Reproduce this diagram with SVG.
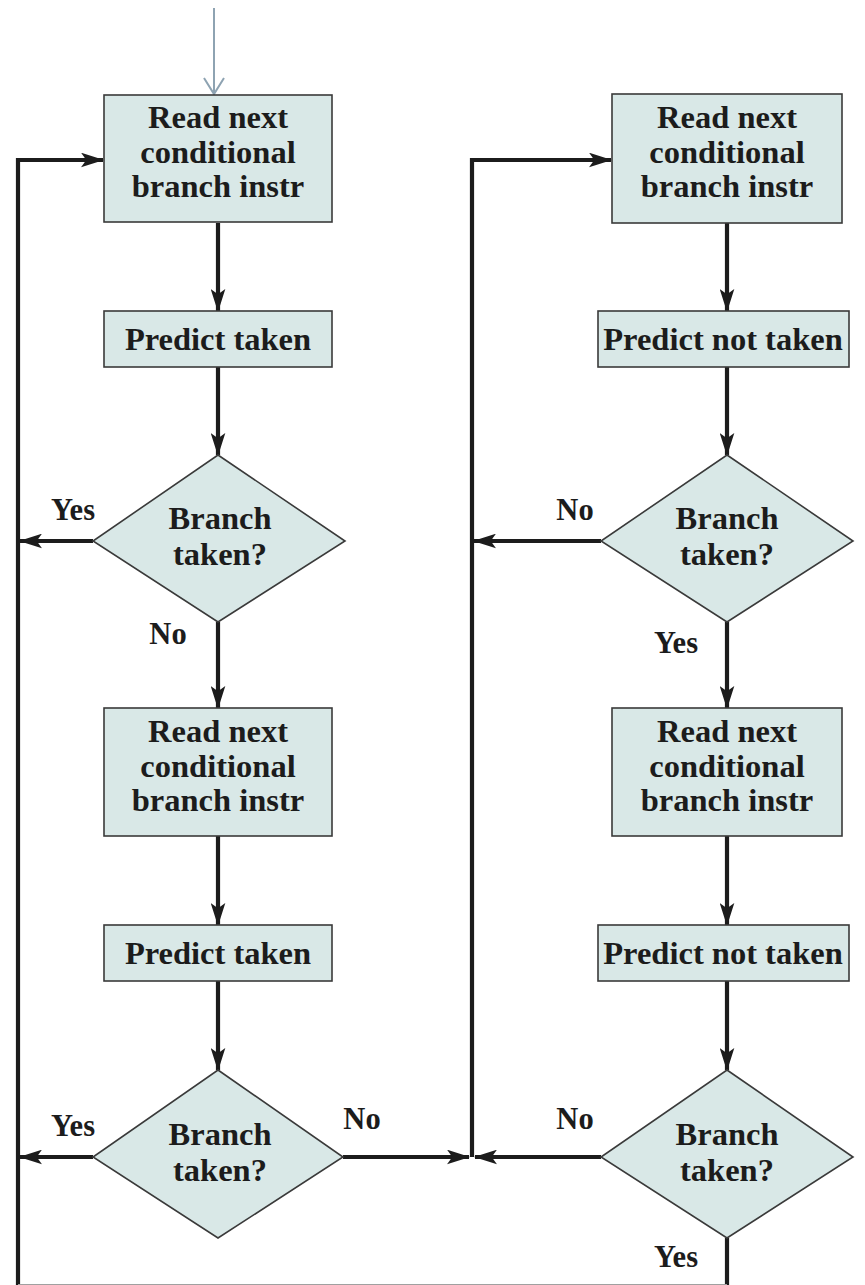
<svg xmlns="http://www.w3.org/2000/svg" width="865" height="1285" viewBox="0 0 865 1285">
  <style>
    .box { fill: #d9e8e7; stroke: #3a3a3a; stroke-width: 1.6; }
    .lbl { font-family: "Liberation Serif", "Times New Roman", serif; font-weight: bold; font-size: 32.5px; fill: #1c1c1c; text-anchor: middle; }
    .yn { font-family: "Liberation Serif", "Times New Roman", serif; font-weight: bold; font-size: 30.5px; fill: #1c1c1c; text-anchor: middle; }
    .flow { fill: none; stroke: #1c1c1c; stroke-width: 4.2; }
    .flowa { fill: none; stroke: #1c1c1c; stroke-width: 4.2; marker-end: url(#arrow); }
  </style>
  <defs>
    <marker id="arrow" viewBox="0 0 22 14" refX="21" refY="7" markerWidth="23" markerHeight="15" markerUnits="userSpaceOnUse" orient="auto">
      <path d="M0,0 L22,7 L0,14 L5,7 z" fill="#1c1c1c"/>
    </marker>
  </defs>

  <rect width="865" height="1285" fill="#ffffff"/>

  <!-- connectors -->
  <g id="connectors">
    <!-- entry arrow -->
    <line x1="214" y1="8" x2="214" y2="94" stroke="#8ea3b2" stroke-width="2"/>
    <polyline points="204,78 214,94 224,78" fill="none" stroke="#8ea3b2" stroke-width="2"/>

    <!-- left column -->
    <line class="flowa" x1="218" y1="223" x2="218" y2="311"/>
    <line class="flowa" x1="218" y1="367" x2="218" y2="455"/>
    <line class="flowa" x1="218" y1="622" x2="218" y2="708"/>
    <line class="flowa" x1="218" y1="836" x2="218" y2="925"/>
    <line class="flowa" x1="218" y1="981" x2="218" y2="1070"/>

    <!-- right column -->
    <line class="flowa" x1="727" y1="223" x2="727" y2="311"/>
    <line class="flowa" x1="727" y1="367" x2="727" y2="455"/>
    <line class="flowa" x1="727" y1="622" x2="727" y2="708"/>
    <line class="flowa" x1="727" y1="836" x2="727" y2="925"/>
    <line class="flowa" x1="727" y1="981" x2="727" y2="1070"/>
    <line class="flow" x1="727" y1="1238" x2="727" y2="1285"/>

    <!-- left loop -->
    <polyline class="flowa" points="18,1285 18,160 103,160"/>
    <line class="flowa" x1="93" y1="541" x2="20" y2="541"/>
    <line class="flowa" x1="93" y1="1157" x2="20" y2="1157"/>

    <!-- right loop -->
    <polyline class="flowa" points="472,1157 472,160 611,160"/>
    <line class="flowa" x1="601" y1="541" x2="474" y2="541"/>
    <line class="flowa" x1="343" y1="1157" x2="469" y2="1157"/>
    <line class="flowa" x1="601" y1="1157" x2="475" y2="1157"/>

    <line x1="18" y1="1284.5" x2="727" y2="1284.5" stroke="#a0a0a0" stroke-width="1"/>
  </g>

  <!-- left column nodes -->
  <g id="read1">
    <rect class="box" x="104" y="95" width="228" height="127"/>
    <text class="lbl" x="218" y="128">Read next</text>
    <text class="lbl" x="218" y="163">conditional</text>
    <text class="lbl" x="218" y="197">branch instr</text>
  </g>
  <g id="predict1">
    <rect class="box" x="104" y="311" width="228" height="56"/>
    <text class="lbl" x="218" y="350">Predict taken</text>
  </g>
  <g id="decision1">
    <polygon class="box" points="218,455 345,541 218,622 93,541"/>
    <text class="lbl" x="220" y="529">Branch</text>
    <text class="lbl" x="220" y="565">taken?</text>
    <text class="yn" x="73" y="520">Yes</text>
    <text class="yn" x="168" y="644">No</text>
  </g>
  <g id="read2">
    <rect class="box" x="104" y="708" width="228" height="128"/>
    <text class="lbl" x="218" y="742">Read next</text>
    <text class="lbl" x="218" y="777">conditional</text>
    <text class="lbl" x="218" y="811">branch instr</text>
  </g>
  <g id="predict2">
    <rect class="box" x="104" y="925" width="228" height="56"/>
    <text class="lbl" x="218" y="964">Predict taken</text>
  </g>
  <g id="decision2">
    <polygon class="box" points="218,1070 343,1157 218,1238 93,1157"/>
    <text class="lbl" x="220" y="1145">Branch</text>
    <text class="lbl" x="220" y="1181">taken?</text>
    <text class="yn" x="73" y="1136">Yes</text>
    <text class="yn" x="362" y="1129">No</text>
  </g>

  <!-- right column nodes -->
  <g id="read3">
    <rect class="box" x="612" y="94" width="230" height="129"/>
    <text class="lbl" x="727" y="128">Read next</text>
    <text class="lbl" x="727" y="163">conditional</text>
    <text class="lbl" x="727" y="197">branch instr</text>
  </g>
  <g id="predict3">
    <rect class="box" x="598" y="311" width="251" height="56"/>
    <text class="lbl" x="723" y="350">Predict not taken</text>
  </g>
  <g id="decision3">
    <polygon class="box" points="727,455 853,541 727,622 601,541"/>
    <text class="lbl" x="727" y="529">Branch</text>
    <text class="lbl" x="727" y="565">taken?</text>
    <text class="yn" x="575" y="520">No</text>
    <text class="yn" x="676" y="653">Yes</text>
  </g>
  <g id="read4">
    <rect class="box" x="612" y="708" width="230" height="128"/>
    <text class="lbl" x="727" y="742">Read next</text>
    <text class="lbl" x="727" y="777">conditional</text>
    <text class="lbl" x="727" y="811">branch instr</text>
  </g>
  <g id="predict4">
    <rect class="box" x="598" y="925" width="251" height="56"/>
    <text class="lbl" x="723" y="964">Predict not taken</text>
  </g>
  <g id="decision4">
    <polygon class="box" points="727,1070 853,1157 727,1238 601,1157"/>
    <text class="lbl" x="727" y="1145">Branch</text>
    <text class="lbl" x="727" y="1181">taken?</text>
    <text class="yn" x="575" y="1129">No</text>
    <text class="yn" x="676" y="1267">Yes</text>
  </g>
</svg>
